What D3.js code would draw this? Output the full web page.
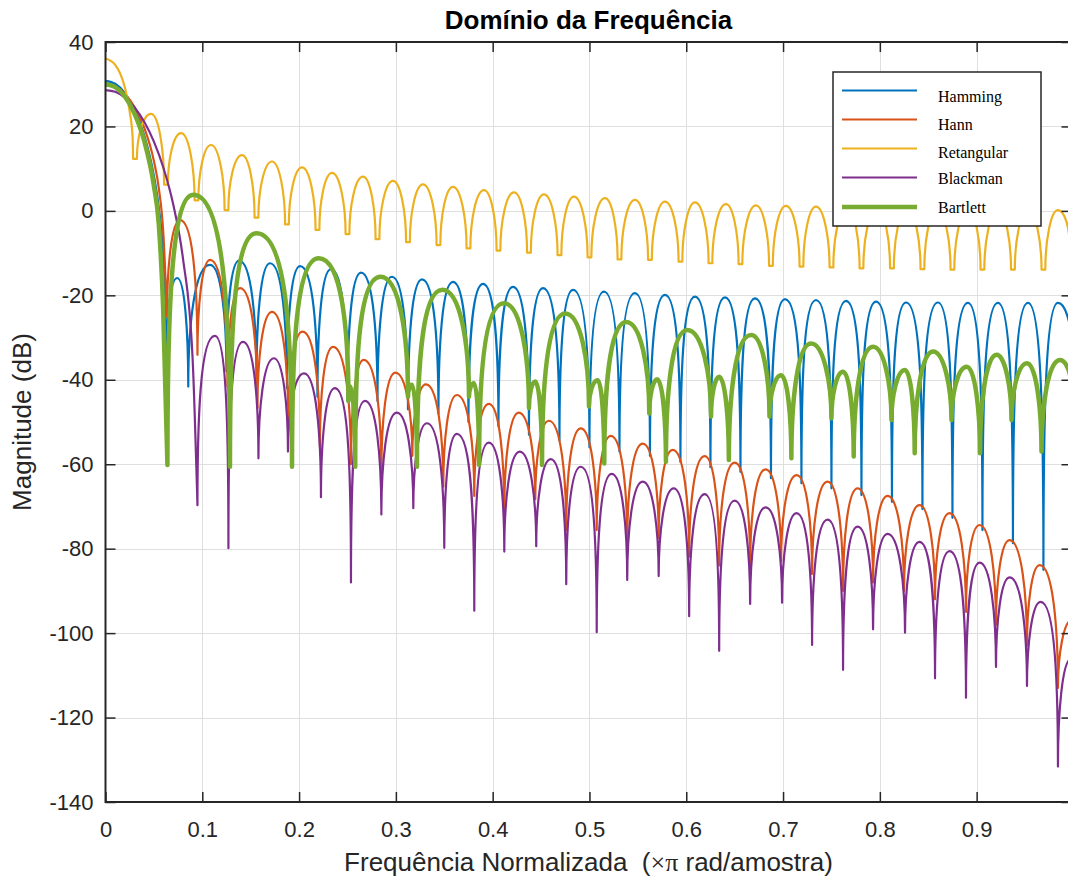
<!DOCTYPE html>
<html><head><meta charset="utf-8">
<script src="https://cdn.jsdelivr.net/npm/d3@7"></script>
<style>body{margin:0;background:#fff} svg{display:block}</style>
</head><body><svg id="c" width="1068" height="881"></svg>
<script>
// ---------------- data ----------------
const xTicks = [0, 0.1, 0.2, 0.3, 0.4, 0.5, 0.6, 0.7, 0.8, 0.9];
const yTicks = [40, 20, 0, -20, -40, -60, -80, -100, -120, -140];
const seriesNames = ["Hamming", "Hann", "Retangular", "Blackman", "Bartlett"];

// Hamming
const hammingMainX = [0, 0.01, 0.02, 0.03, 0.04, 0.05, 0.055, 0.06];
const hammingMainDb = [30.8, 30.1, 27.9, 24.0, 17.9, 8.3, 0.9, -12.4];
const hammingNullX = [0.0625, 0.0855, 0.125, 0.156, 0.1875, 0.219, 0.25, 0.281, 0.3125, 0.344, 0.375, 0.406, 0.4375, 0.469, 0.5, 0.531, 0.5625, 0.594, 0.625, 0.656, 0.6875, 0.719, 0.75, 0.781, 0.8125, 0.844, 0.875, 0.906, 0.9375, 0.969, 0.998];
const hammingNullDb = [-35, -41.6, -38, -40, -42, -44, -45, -45, -47, -48, -50, -51, -53, -54.3, -56, -57, -58, -59.5, -60.7, -61.8, -63.3, -64.5, -65.7, -67.3, -68.9, -70.6, -72.7, -75.6, -78.7, -85, -32];
const hammingPeakX = [0.074, 0.108, 0.138, 0.170, 0.201, 0.233, 0.264, 0.296, 0.327, 0.359, 0.390, 0.421, 0.452, 0.483, 0.515, 0.547, 0.578, 0.609, 0.640, 0.671, 0.702, 0.734, 0.765, 0.796, 0.827, 0.860, 0.891, 0.922, 0.953, 0.984];
const hammingPeakDb = [-15.9, -12.8, -11.8, -12.4, -13.1, -13.8, -14.6, -15.6, -16.2, -16.8, -17.3, -18.0, -18.3, -18.7, -19.1, -19.5, -19.9, -20.3, -20.5, -20.7, -20.9, -21.1, -21.3, -21.5, -21.7, -21.7, -21.8, -21.8, -21.8, -21.8];

// Hann
const hannMainX = [0, 0.01, 0.02, 0.03, 0.04, 0.05, 0.055, 0.06];
const hannMainDb = [30.1, 29.5, 27.7, 24.6, 19.7, 11.8, 5.5, -6.2];
const hannNullX = [0.0635, 0.095, 0.126, 0.157, 0.189, 0.2215, 0.2536, 0.285, 0.317, 0.349, 0.381, 0.412, 0.444, 0.476, 0.5075, 0.539, 0.5715, 0.603, 0.634, 0.666, 0.698, 0.730, 0.762, 0.793, 0.825, 0.857, 0.889, 0.920, 0.952, 0.984];
const hannNullDb = [-25, -34.1, -41.6, -46.7, -52, -55.8, -60, -62, -58, -65.3, -67.5, -71.5, -68.3, -75.6, -75.6, -78.7, -77.5, -81.9, -84, -84.3, -83, -86, -90, -88, -90, -92, -95, -98, -103, -113];
const hannPeakX = [0.077, 0.108, 0.139, 0.172, 0.2035, 0.235, 0.2667, 0.2995, 0.331, 0.363, 0.396, 0.427, 0.458, 0.491, 0.522, 0.555, 0.586, 0.619, 0.650, 0.682, 0.714, 0.746, 0.777, 0.808, 0.841, 0.872, 0.903, 0.934, 0.965, 0.998];
const hannPeakDb = [-2.2, -11.6, -18.3, -23.9, -28.6, -32.2, -35.3, -38.3, -41.1, -43.6, -45.7, -47.8, -49.7, -51.5, -53.3, -55.1, -56.6, -58.1, -59.6, -61.2, -62.6, -64.1, -65.7, -67.5, -69.7, -71.6, -74.4, -78.0, -83.9, -97];

// Retangular
const retMainX = [0, 0.01, 0.02, 0.025, 0.028];
const retMainDb = [36.1, 34.6, 29.2, 23.5, 17.5];
const retNullX = [0.0305, 0.0625, 0.094, 0.125, 0.156, 0.1875, 0.219, 0.25, 0.281, 0.3125, 0.344, 0.375, 0.406, 0.4375, 0.469, 0.5, 0.531, 0.5625, 0.594, 0.625, 0.656, 0.6875, 0.719, 0.75, 0.781, 0.8125, 0.844, 0.875, 0.906, 0.9375, 0.969, 0.998];
const retNullDb = [12.3, 6.2, 2.5, 0.2, -1.6, -3.2, -4.5, -5.5, -6.7, -7.4, -8.1, -8.9, -9.4, -9.9, -10.5, -11.0, -11.5, -11.6, -12.0, -12.4, -12.6, -13.0, -13.2, -13.4, -13.6, -13.6, -13.8, -13.9, -13.9, -13.9, -13.9, -8];
const retPeakX = [0.047, 0.078, 0.109, 0.141, 0.172, 0.203, 0.234, 0.266, 0.297, 0.328, 0.359, 0.391, 0.422, 0.453, 0.484, 0.516, 0.547, 0.578, 0.609, 0.641, 0.672, 0.703, 0.734, 0.766, 0.797, 0.828, 0.859, 0.891, 0.922, 0.953, 0.984];
const retPeakDb = [23.0, 18.4, 15.6, 13.2, 11.7, 10.3, 9.0, 8.1, 7.1, 6.3, 5.7, 4.9, 4.4, 3.9, 3.4, 3.0, 2.6, 2.2, 2.0, 1.6, 1.3, 1.2, 1.0, 0.8, 0.6, 0.5, 0.4, 0.3, 0.2, 0.2, 0.2];

// Blackman
const blackMainX = [0, 0.01, 0.02, 0.03, 0.04, 0.05, 0.06, 0.07, 0.08, 0.09];
const blackMainDb = [28.6, 28.2, 26.8, 24.5, 21.1, 16.4, 10.1, 1.5, -11.2, -35];
const blackNullX = [0.095, 0.127, 0.158, 0.1885, 0.2226, 0.2536, 0.285, 0.318, 0.350, 0.381, 0.412, 0.445, 0.476, 0.5075, 0.539, 0.5715, 0.603, 0.634, 0.666, 0.699, 0.730, 0.762, 0.793, 0.826, 0.857, 0.889, 0.920, 0.952, 0.984];
const blackNullDb = [-69.7, -79.9, -58.6, -57, -67.8, -88, -71.9, -70.4, -79.8, -94.7, -80.7, -79.4, -88.4, -99.8, -87.4, -86.5, -96, -104.2, -93.1, -92.8, -102.8, -108.7, -99.1, -99.9, -110.7, -115.3, -108, -112.5, -131.6];
const blackPeakX = [0.113, 0.142, 0.174, 0.205, 0.237, 0.268, 0.301, 0.332, 0.363, 0.396, 0.428, 0.460, 0.491, 0.523, 0.555, 0.587, 0.619, 0.650, 0.682, 0.714, 0.746, 0.777, 0.808, 0.841, 0.872, 0.903, 0.934, 0.966, 0.998];
const blackPeakDb = [-29.6, -31.0, -34.9, -38.5, -42.0, -45.0, -47.8, -50.3, -52.8, -54.9, -57.0, -58.8, -60.6, -62.3, -64.1, -65.7, -67.1, -68.6, -70.2, -71.6, -73.1, -74.8, -76.5, -78.4, -80.6, -83.3, -86.8, -92.6, -106];

// Bartlett
const bartMainX = [0, 0.01, 0.02, 0.03, 0.04, 0.05, 0.055, 0.0595];
const bartMainDb = [30.0, 29.3, 27.1, 23.0, 16.6, 5.9, -3, -22.7];
const bartNullX = [0.064, 0.1286, 0.1927, 0.251, 0.258, 0.3125, 0.3218, 0.3755, 0.386, 0.4375, 0.451, 0.4995, 0.5153, 0.5618, 0.579, 0.6256, 0.644, 0.686, 0.7086, 0.750, 0.773, 0.812, 0.836, 0.874, 0.9035, 0.936, 0.967, 0.998];
const bartNullDb = [-60.2, -60.6, -60.6, -45, -60.6, -44, -60.6, -44, -60.2, -46.7, -60.2, -46.3, -59.8, -48, -59.4, -48.7, -59, -48.7, -58.6, -49.1, -58.2, -49.5, -57.4, -49.5, -57.4, -49.5, -57.0, -42];
const bartPeakX = [0.0907, 0.156, 0.2203, 0.2529, 0.284, 0.3166, 0.348, 0.3807, 0.4117, 0.444, 0.475, 0.5085, 0.538, 0.570, 0.601, 0.634, 0.667, 0.698, 0.729, 0.762, 0.793, 0.826, 0.855, 0.8897, 0.9207, 0.952, 0.986];
const bartPeakDb = [3.8, -5.3, -11.2, -41.6, -15.6, -41.2, -18.7, -40.8, -21.9, -40.4, -24.3, -40.1, -26.3, -39.9, -28.2, -39.3, -29.4, -38.9, -31.4, -38.1, -32.2, -37.7, -33.3, -36.9, -34.1, -36.1, -35.3];

// ---------------- drawing ----------------
const W = 1068, H = 881;
const M = {left: 105.5, right: 1071.5, top: 42, bottom: 802};
const x = d3.scaleLinear().domain([0, 0.998]).range([M.left, M.right]);
const y = d3.scaleLinear().domain([-140, 40]).range([M.bottom, M.top]);
const svg = d3.select("#c");
const sans = "'Liberation Sans', Arial, Helvetica, sans-serif";
const serif = "'Liberation Serif', 'Times New Roman', serif";

svg.append("rect").attr("width", W).attr("height", H).attr("fill", "#fff");

// grid
const grid = svg.append("g").attr("stroke", "#dfdfdf").attr("stroke-width", 1);
grid.selectAll(".gx").data(xTicks.filter(d => d > 0)).enter().append("line")
  .attr("x1", d => Math.round(x(d)) + 0.5).attr("x2", d => Math.round(x(d)) + 0.5)
  .attr("y1", M.top).attr("y2", M.bottom);
grid.selectAll(".gy").data(yTicks.filter(d => d < 40 && d > -140)).enter().append("line")
  .attr("y1", d => Math.round(y(d)) + 0.5).attr("y2", d => Math.round(y(d)) + 0.5)
  .attr("x1", M.left).attr("x2", M.right);

// series
function seriesPath(mainX, mainDb, nullX, nullDb, peakX, peakDb, nullW) {
  const pts = [];
  for (let i = 0; i < nullX.length; i++) {
    pts.push({x: x(nullX[i]), y: y(nullDb[i]), db: nullDb[i], min: true});
    if (i < peakX.length) pts.push({x: x(peakX[i]), y: y(peakDb[i]), db: peakDb[i], min: false});
  }
  const hw = nullW / 2;
  pts.forEach(p => { p.xl = p.min ? p.x - hw : p.x; p.xr = p.min ? p.x + hw : p.x; });
  const main = mainX.map((v, i) => [x(v), y(mainDb[i])]);
  main.push([pts[0].xl, pts[0].y]);
  const mainD = d3.line().curve(d3.curveMonotoneX)(main);
  const p = d3.path();
  p.moveTo(pts[0].xl, pts[0].y);
  if (hw) p.lineTo(pts[0].xr, pts[0].y);
  for (let i = 1; i < pts.length; i++) {
    const a0 = pts[i - 1], a1 = pts[i];
    const x0 = a0.xr, y0 = a0.y, x1 = a1.xl, y1 = a1.y;
    const depth = Math.abs(a1.db - a0.db);
    const k = 0.55 + 0.35 * Math.max(0, Math.min(1, (depth - 15) / 30));
    const b = 0.5;
    if (a0.min) p.bezierCurveTo(x0, y0 + b * (y1 - y0), x1 - k * (x1 - x0), y1, x1, y1);
    else p.bezierCurveTo(x0 + k * (x1 - x0), y0, x1, y1 + b * (y0 - y1), x1, y1);
    if (a1.min && hw) p.lineTo(a1.xr, a1.y);
  }
  return mainD + p.toString();
}

const colors = ["#0072BD", "#D95319", "#EDB120", "#7E2F8E", "#77AC30"];
const widths = [2.2, 2.2, 2.2, 2.2, 4.5];
const series = [
  seriesPath(hammingMainX, hammingMainDb, hammingNullX, hammingNullDb, hammingPeakX, hammingPeakDb, 0),
  seriesPath(hannMainX, hannMainDb, hannNullX, hannNullDb, hannPeakX, hannPeakDb, 0),
  seriesPath(retMainX, retMainDb, retNullX, retNullDb, retPeakX, retPeakDb, 3.8),
  seriesPath(blackMainX, blackMainDb, blackNullX, blackNullDb, blackPeakX, blackPeakDb, 0),
  seriesPath(bartMainX, bartMainDb, bartNullX, bartNullDb, bartPeakX, bartPeakDb, 0)
];

svg.append("clipPath").attr("id", "clip").append("rect")
  .attr("x", M.left).attr("y", M.top).attr("width", M.right - M.left).attr("height", M.bottom - M.top);
const lines = svg.append("g").attr("clip-path", "url(#clip)");
lines.selectAll("path").data(series).enter().append("path")
  .attr("d", d => d).attr("fill", "none")
  .attr("stroke", (d, i) => colors[i]).attr("stroke-width", (d, i) => widths[i])
  .attr("stroke-linejoin", "round").attr("stroke-linecap", "round");

// axes
const axisColor = "#262626";
function styleAxis(g) {
  g.select(".domain").remove();
  g.selectAll(".tick line").attr("stroke", axisColor).attr("stroke-width", 1.5);
  g.selectAll(".tick text").attr("fill", axisColor).attr("font-family", sans).attr("font-size", 22);
}
svg.append("g").attr("transform", `translate(${M.left},0)`)
  .call(d3.axisLeft(y).tickValues(yTicks).tickSizeInner(-10).tickSizeOuter(0).tickPadding(12).tickFormat(d => String(d)))
  .call(styleAxis);
svg.append("g").attr("transform", `translate(${M.right},0)`)
  .call(d3.axisRight(y).tickValues(yTicks).tickSizeInner(-10).tickSizeOuter(0).tickFormat(""))
  .call(styleAxis);
svg.append("g").attr("transform", `translate(0,${M.bottom})`)
  .call(d3.axisBottom(x).tickValues(xTicks).tickSizeInner(-10).tickSizeOuter(0).tickPadding(19).tickFormat(d => d === 0 ? "0" : String(d)))
  .call(styleAxis);
svg.append("g").attr("transform", `translate(0,${M.top})`)
  .call(d3.axisTop(x).tickValues(xTicks).tickSizeInner(-10).tickSizeOuter(0).tickFormat(""))
  .call(styleAxis);
svg.append("rect").attr("x", M.left).attr("y", M.top).attr("width", M.right - M.left).attr("height", M.bottom - M.top)
  .attr("fill", "none").attr("stroke", axisColor).attr("stroke-width", 2);

// title and labels
svg.append("text").attr("x", (M.left + M.right) / 2).attr("y", 29).attr("text-anchor", "middle")
  .attr("font-family", sans).attr("font-weight", "bold").attr("font-size", 26).attr("fill", "#000")
  .text("Domínio da Frequência");
const xl = svg.append("text").attr("x", (M.left + M.right) / 2).attr("y", 871).attr("text-anchor", "middle")
  .attr("font-family", sans).attr("font-size", 26).attr("fill", axisColor).style("white-space", "pre");
xl.append("tspan").text("Frequência Normalizada  (");
xl.append("tspan").attr("font-family", serif).text("×π");
xl.append("tspan").text(" rad/amostra)");
svg.append("text").attr("transform", `translate(31,${(M.top + M.bottom) / 2}) rotate(-90)`)
  .attr("text-anchor", "middle").attr("font-family", sans).attr("font-size", 26).attr("fill", axisColor)
  .text("Magnitude (dB)");

// legend
const L = {x: 833, y: 72, w: 208, h: 154};
const lg = svg.append("g");
lg.append("rect").attr("x", L.x).attr("y", L.y).attr("width", L.w).attr("height", L.h)
  .attr("fill", "#fff").attr("stroke", axisColor).attr("stroke-width", 1.5);
const rowY = [90.5, 119.5, 148.5, 177.5, 207];
const textY = [96, 124, 152, 178.5, 207];
seriesNames.forEach((name, i) => {
  lg.append("line").attr("x1", 842).attr("x2", 917).attr("y1", rowY[i]).attr("y2", rowY[i])
    .attr("stroke", colors[i]).attr("stroke-width", widths[i]);
  lg.append("text").attr("x", 938).attr("y", textY[i]).attr("dy", "0.35em")
    .attr("font-family", serif).attr("font-size", 16).attr("fill", "#000").text(name);
});
</script>
</body></html>
